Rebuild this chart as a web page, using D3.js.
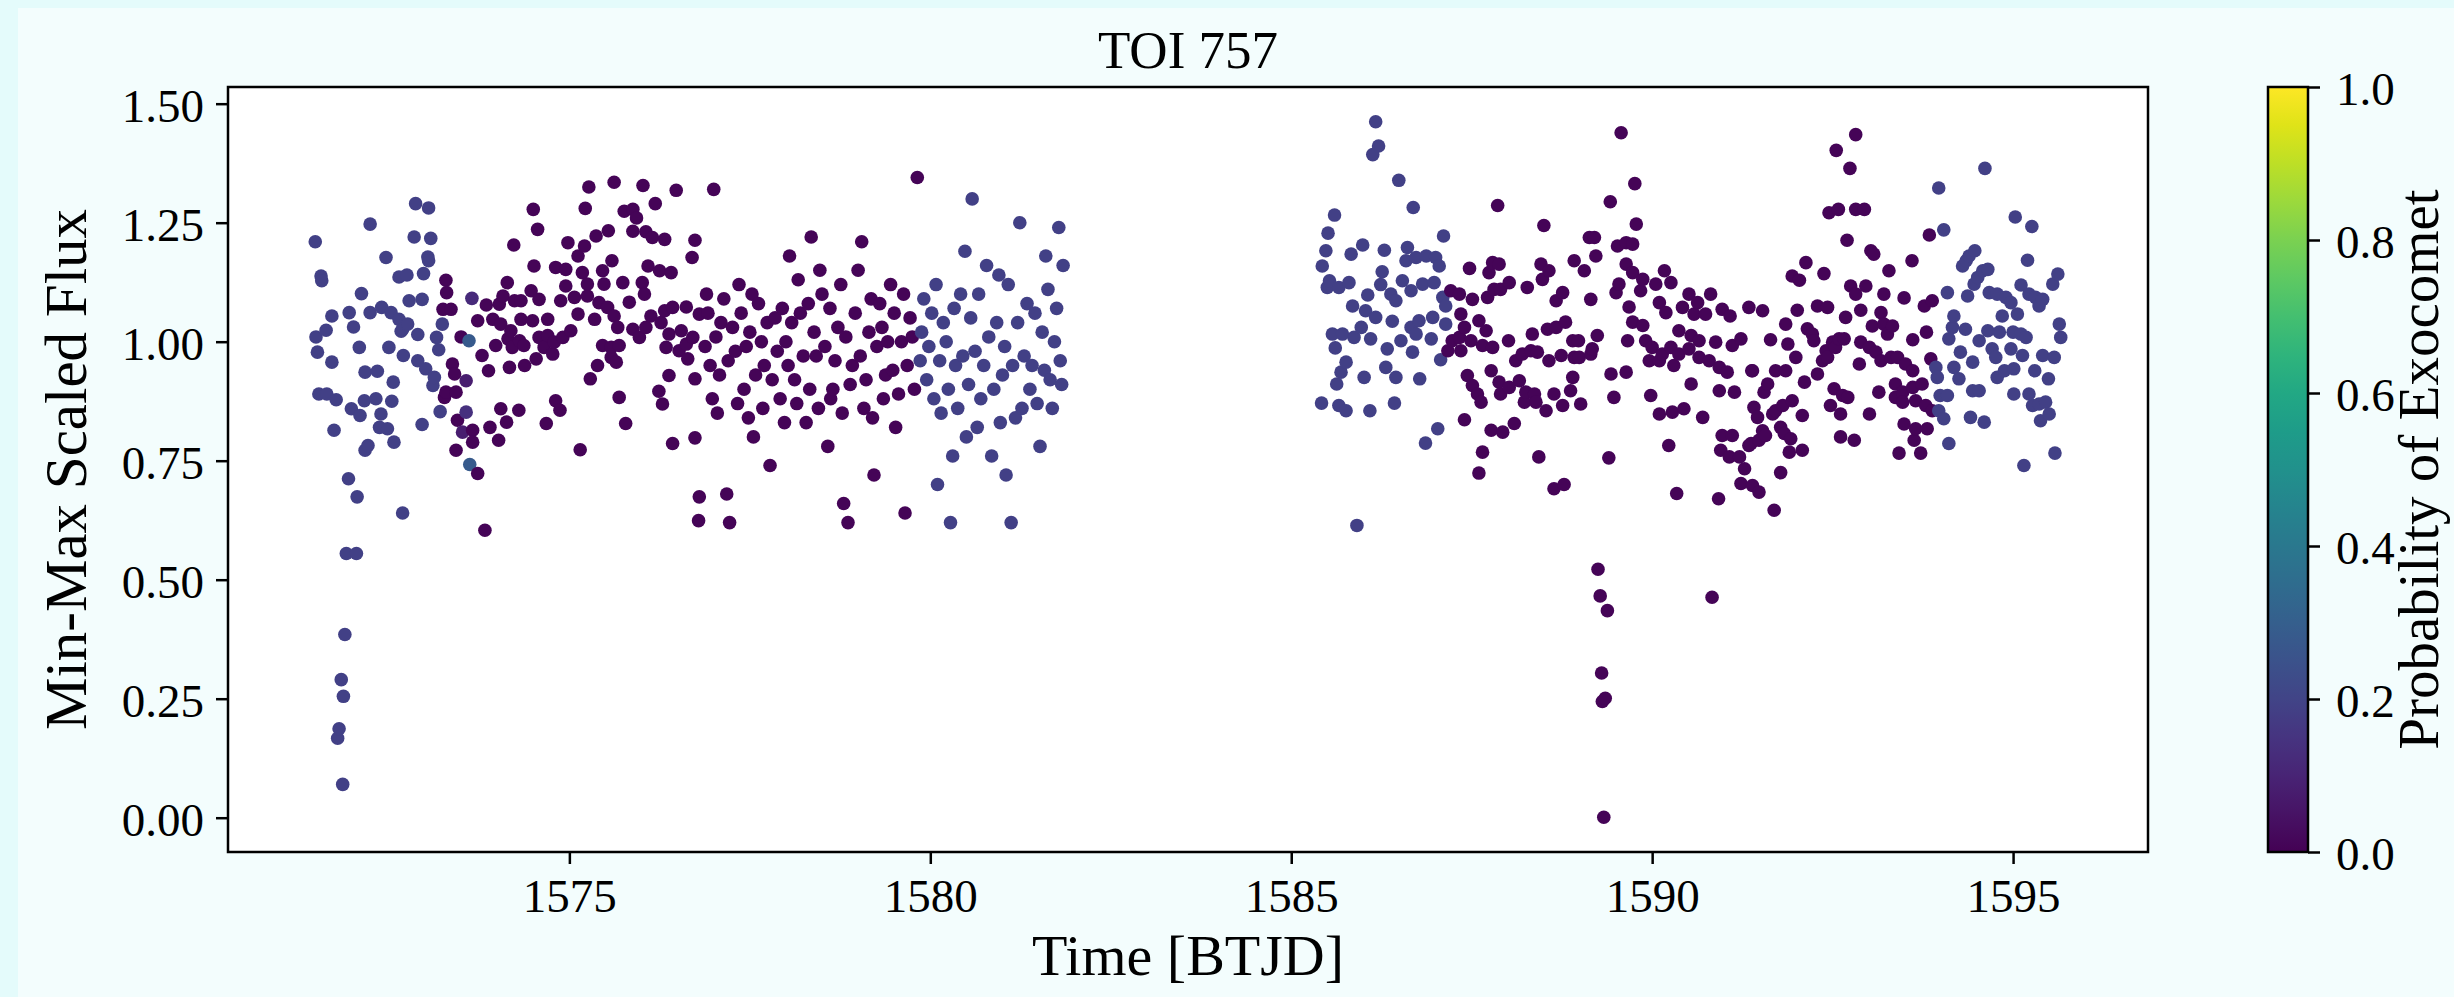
<!DOCTYPE html>
<html>
<head>
<meta charset="utf-8">
<script src="https://cdn.jsdelivr.net/npm/d3@7"></script>
<style>
  html, body { margin: 0; padding: 0; background: #e6fbfb; }
  svg { display: block; font-family: "Liberation Serif", "Times New Roman", serif; }
</style>
</head>
<body>
<svg id="chart" width="2454" height="997"></svg>
<script>
const title = "TOI 757";
const xLabel = "Time [BTJD]";
const yLabel = "Min-Max Scaled Flux";
const cbLabel = "Probability of Exocomet";
const xTicks = [1575, 1580, 1585, 1590, 1595];
const yTicks = [0, 0.25, 0.5, 0.75, 1.0, 1.25, 1.5];
const cbTicks = [0, 0.2, 0.4, 0.6, 0.8, 1.0];

// model probability per time window: [start, end, prob]
const probWindows = [
  [1571.0, 1573.245, 0.19],
  [1573.245, 1579.84, 0.01],
  [1579.84, 1582.0, 0.19],
  [1585.0, 1587.16, 0.19],
  [1587.16, 1593.9, 0.01],
  [1593.9, 1596.0, 0.19]
];

// [time, flux] or [time, flux, prob] where a point differs from its window
const seg1 = [
  [1571.48,1.210],[1571.56,1.138],[1571.57,1.128],[1571.49,1.010],[1571.63,1.024],[1571.71,1.054],
  [1571.51,0.978],[1571.71,0.957],[1571.53,0.890],[1571.64,0.890],[1571.77,0.878],[1571.74,0.814],
  [1571.95,1.061],[1572.01,1.031],[1572.12,1.101],[1572.24,1.247],[1572.09,0.988],[1572.17,0.936],
  [1572.34,0.938],[1571.98,0.859],[1572.10,0.845],[1572.16,0.876],[1572.32,0.880],[1572.39,0.848],
  [1572.37,0.820],[1572.48,0.817],[1572.17,0.772],[1572.21,0.782],[1571.94,0.712],[1572.57,0.789],
  [1572.24,1.061],[1572.40,1.072],[1572.53,1.061],[1572.64,1.047],[1572.76,1.037],[1572.69,1.026],
  [1572.46,1.177],[1572.64,1.136],[1572.75,1.140],[1572.87,1.290],[1573.05,1.281],[1572.85,1.220],
  [1573.08,1.217],[1573.04,1.178],[1573.05,1.170],[1572.98,1.143],[1572.78,1.086],[1572.96,1.089],
  [1572.67,1.022],[1572.90,1.015],[1572.50,0.988],[1572.70,0.971],[1572.90,0.960],[1573.01,0.943],
  [1573.13,0.925],[1573.11,0.908],[1572.56,0.915],[1572.54,0.875],[1572.96,0.826],[1573.21,0.853],
  [1573.19,0.983],[1573.16,1.009],[1573.24,1.037],
  [1572.06,0.674],[1572.69,0.640],[1571.91,0.555],[1572.05,0.555],[1571.89,0.385],[1571.84,0.290],
  [1571.87,0.255],[1571.81,0.187],[1571.79,0.167],[1571.86,0.070],
  [1573.29,1.129],[1573.30,1.103],[1573.25,1.068],[1573.36,1.068],[1573.50,1.010],[1573.38,0.953],
  [1573.41,0.932],[1573.29,0.894],[1573.27,0.883],[1573.43,0.894],[1573.45,0.835],[1573.66,0.814],
  [1573.66,0.789],[1573.43,0.772],[1573.73,0.723],[1573.73,1.044],[1573.85,1.077],[1573.79,0.971],
  [1573.88,0.939],[1573.98,0.992],[1573.90,0.820],[1574.02,0.793],[1574.05,0.859],[1574.13,0.831],
  [1574.30,0.856],[1574.68,0.828],[1574.81,0.876],[1574.87,0.856],[1575.15,0.773],[1575.69,0.883],
  [1575.78,0.828],[1575.29,0.922],[1575.39,0.950],[1576.24,0.896],[1576.29,0.869],[1576.43,0.786],
  [1576.38,0.929],[1576.74,0.798],[1576.74,0.922],
  [1573.65,1.091,0.12],[1573.61,1.002,0.28],[1573.57,0.918,0.08],[1573.57,0.852,0.14],
  [1573.62,0.742,0.28],[1573.52,0.810,0.08],
  [1575.27,1.325],[1575.62,1.335],[1576.02,1.328],[1576.48,1.318],[1574.50,1.278],[1574.56,1.236],
  [1575.22,1.280],[1576.19,1.290],[1575.76,1.274],[1575.88,1.278],[1575.93,1.260],[1575.88,1.232],
  [1576.06,1.231],[1576.15,1.219],[1576.32,1.215],[1575.37,1.222],[1575.54,1.233],[1574.23,1.203],
  [1574.98,1.208],[1575.21,1.201],[1575.12,1.180],[1574.51,1.159],[1575.59,1.170],[1574.81,1.156],
  [1574.95,1.152],[1575.18,1.145],[1575.46,1.149],[1576.09,1.159],[1576.25,1.149],[1576.41,1.145],
  [1576.70,1.177],[1576.74,1.213],[1574.14,1.124],[1574.95,1.117],[1575.25,1.121],[1575.48,1.121],
  [1575.74,1.124],[1576.01,1.124],[1576.04,1.100],[1575.83,1.083],[1574.08,1.096],[1574.24,1.086],
  [1574.47,1.107],[1574.58,1.089],[1574.88,1.086],[1575.07,1.093],[1575.25,1.096],[1575.41,1.082],
  [1575.53,1.072],[1574.03,1.079],[1574.33,1.086],[1576.32,1.065],[1576.43,1.072],[1576.62,1.073],
  [1576.80,1.058],[1573.94,1.047],[1574.05,1.037],[1574.19,1.023],[1574.33,1.047],[1574.49,1.044],
  [1574.70,1.047],[1575.12,1.058],[1575.35,1.047],[1575.62,1.054],[1575.67,1.030],[1575.88,1.026],
  [1576.06,1.030],[1576.13,1.054],[1576.27,1.040],[1576.38,1.016],[1576.55,1.023],[1576.71,1.009],
  [1574.15,1.006],[1574.31,1.002],[1574.58,1.009],[1574.70,1.013],[1574.79,0.999],[1574.91,1.009],
  [1575.02,1.023],[1574.21,0.988],[1574.37,0.992],[1574.65,0.988],[1575.97,1.009],[1575.46,0.992],
  [1575.58,0.988],[1575.69,0.992],[1576.34,0.988],[1576.52,0.981],[1576.62,0.995],[1574.77,0.974],
  [1574.54,0.964],[1574.17,0.946],[1574.38,0.950],[1575.58,0.967],[1575.65,0.957],[1576.64,0.964],
  [1573.83,0.604],[1576.80,0.674],[1576.79,0.624],
  [1576.90,1.10],[1576.95,0.95],[1577.00,1.32],[1577.05,0.85],[1577.10,1.04],[1577.18,0.68],
  [1577.22,0.62],[1577.30,0.98],[1577.35,1.12],[1577.42,0.90],[1577.50,1.02],[1577.55,0.80],
  [1577.62,1.08],[1577.70,0.95],[1577.78,0.74],[1577.85,1.05],[1577.92,0.88],[1578.00,1.00],
  [1578.05,1.18],[1578.12,0.92],[1578.20,1.06],[1578.28,0.83],[1578.35,1.22],[1578.42,0.97],
  [1578.50,1.10],[1578.58,0.78],[1578.65,0.90],[1578.72,1.03],[1578.80,0.66],[1578.86,0.62],
  [1578.92,0.95],[1579.00,1.15],[1579.08,0.86],[1579.15,1.02],[1579.22,0.72],[1579.30,1.08],
  [1579.38,0.93],[1579.45,1.12],[1579.52,0.82],[1579.60,1.00],[1579.65,0.64],[1579.72,1.05],
  [1579.78,0.90],[1579.82,1.345],
  [1576.88,0.99],[1576.92,1.06],[1576.98,0.88],[1577.03,1.01],[1577.08,0.93],[1577.14,1.09],
  [1577.20,0.96],[1577.26,1.03],[1577.33,0.87],[1577.38,1.06],[1577.45,0.99],[1577.48,0.84],
  [1577.53,1.10],[1577.58,0.93],[1577.66,1.00],[1577.68,0.86],[1577.74,1.04],[1577.81,0.92],
  [1577.88,0.98],[1577.95,1.07],[1577.98,0.83],[1578.03,0.95],[1578.08,1.04],[1578.15,0.87],
  [1578.17,1.13],[1578.24,0.97],[1578.31,1.08],[1578.33,0.90],[1578.39,1.02],[1578.45,0.86],
  [1578.47,1.15],[1578.54,0.99],[1578.61,1.07],[1578.62,0.88],[1578.68,0.96],[1578.76,1.12],
  [1578.78,0.85],[1578.83,1.01],[1578.89,0.91],[1578.96,1.06],[1579.03,0.97],[1579.05,1.21],
  [1579.11,0.92],[1579.18,1.09],[1579.20,0.84],[1579.26,0.99],[1579.33,1.03],[1579.35,0.88],
  [1579.41,1.00],[1579.48,0.94],[1579.50,1.06],[1579.56,0.89],[1579.63,1.10],[1579.68,0.95],
  [1579.75,1.01],
  [1579.88,1.02],[1579.95,0.92],[1580.02,1.06],[1580.10,0.70],[1580.15,0.85],[1580.22,1.00],
  [1580.28,0.62],[1580.35,0.95],[1580.42,1.10],[1580.50,0.80],[1580.58,1.30],[1580.62,0.98],
  [1580.70,0.88],[1580.78,1.16],[1580.85,0.76],[1580.92,1.04],[1581.00,0.93],[1581.08,1.12],
  [1581.12,0.62],[1581.18,0.84],[1581.24,1.25],[1581.30,0.97],[1581.38,0.90],[1581.45,1.06],
  [1581.52,0.78],[1581.60,1.18],[1581.66,0.92],[1581.72,1.00],[1581.78,1.24],[1581.82,0.91],
  [1579.86,0.96],[1579.91,1.09],[1579.98,0.99],[1580.05,0.88],[1580.08,1.12],[1580.13,0.96],
  [1580.18,1.04],[1580.25,0.90],[1580.31,0.76],[1580.33,1.07],[1580.38,0.86],[1580.45,0.97],
  [1580.48,1.19],[1580.53,0.91],[1580.56,1.05],[1580.65,0.82],[1580.67,1.10],[1580.74,0.95],
  [1580.81,1.01],[1580.88,0.90],[1580.95,1.14],[1580.97,0.83],[1581.03,0.99],[1581.05,0.72],
  [1581.14,0.95],[1581.21,1.04],[1581.27,0.86],[1581.34,1.08],[1581.41,0.95],[1581.48,0.87],
  [1581.55,1.02],[1581.58,0.94],[1581.63,1.11],[1581.69,0.86],[1581.75,1.07],[1581.80,0.96],
  [1581.84,1.16]
];

const seg2 = [
  [1586.17,1.462],[1586.21,1.411],[1586.13,1.393],[1586.49,1.339],[1586.69,1.282],[1585.60,1.266],
  [1585.51,1.228],[1585.48,1.191],[1585.43,1.159],[1585.83,1.184],[1585.99,1.203],[1586.29,1.192],
  [1586.61,1.198],[1586.59,1.170],[1586.73,1.177],[1586.87,1.180],[1587.00,1.177],[1587.05,1.159],
  [1587.11,1.222],[1586.26,1.147],[1585.53,1.128],[1585.66,1.114],[1585.80,1.124],[1585.50,1.114],
  [1586.06,1.098],[1586.24,1.120],[1586.38,1.100],[1586.45,1.086],[1586.54,1.128],[1586.66,1.107],
  [1586.82,1.121],[1586.98,1.124],[1587.10,1.093],[1587.14,1.075],[1585.85,1.075],[1586.03,1.065],
  [1586.17,1.051],[1585.57,1.016],[1585.71,1.016],[1585.87,1.009],[1585.97,1.030],[1586.10,1.006],
  [1586.40,1.043],[1586.66,1.030],[1586.77,1.044],[1586.96,1.051],[1587.14,1.037],[1586.52,1.002],
  [1586.73,1.016],[1586.94,1.006],[1585.61,0.987],[1586.33,0.985],[1586.68,0.978],[1587.07,0.962],
  [1585.76,0.957],[1585.69,0.936],[1586.31,0.946],[1586.45,0.925],[1585.63,0.911],[1586.01,0.925],
  [1586.78,0.922],[1585.42,0.871],[1585.66,0.866],[1585.76,0.855],[1586.09,0.855],[1586.43,0.871],
  [1587.03,0.817],[1586.86,0.787],[1585.91,0.614],
  [1589.57,1.439],[1589.76,1.332],[1589.42,1.294],[1589.78,1.247],[1587.86,1.286],[1588.50,1.244],
  [1589.13,1.219],[1589.20,1.219],[1589.22,1.180],[1589.52,1.201],[1589.64,1.208],[1589.73,1.205],
  [1588.92,1.170],[1589.06,1.149],[1587.47,1.154],[1587.79,1.166],[1587.88,1.163],[1587.74,1.145],
  [1588.46,1.163],[1588.57,1.149],[1588.48,1.131],[1588.02,1.124],[1587.90,1.110],[1587.81,1.110],
  [1588.27,1.114],[1589.64,1.163],[1589.73,1.145],[1589.87,1.131],[1590.05,1.121],[1590.17,1.149],
  [1590.26,1.124],[1589.54,1.121],[1589.50,1.103],[1587.21,1.107],[1587.33,1.100],[1587.51,1.089],
  [1587.72,1.093],[1588.76,1.103],[1588.67,1.086],[1589.15,1.089],[1589.84,1.107],[1590.10,1.082],
  [1590.19,1.061],[1590.51,1.100],[1590.63,1.082],[1590.81,1.100],[1590.42,1.072],[1590.58,1.058],
  [1590.74,1.058],[1590.97,1.068],[1591.08,1.054],[1591.34,1.072],[1591.53,1.065],[1589.68,1.073],
  [1587.35,1.058],[1587.40,1.030],[1587.33,1.009],[1587.60,1.044],[1587.70,1.023],[1587.23,1.002],
  [1587.17,0.981],[1587.35,0.981],[1587.49,1.002],[1587.65,0.992],[1587.79,0.988],[1588.01,1.002],
  [1588.34,1.016],[1588.55,1.026],[1588.67,1.030],[1588.80,1.041],[1588.90,1.002],[1588.98,1.002],
  [1589.24,1.013],[1589.66,1.002],[1589.73,1.041],[1589.87,1.034],[1589.91,1.002],[1590.00,0.988],
  [1590.14,0.974],[1590.26,0.988],[1590.37,0.974],[1590.51,0.985],[1590.37,1.023],[1590.54,1.013],
  [1590.65,1.002],[1590.88,0.999],[1591.11,0.992],[1591.23,1.006],[1591.64,1.004],[1588.11,0.960],
  [1588.20,0.974],[1588.32,0.981],[1588.41,0.978],[1588.57,0.960],[1588.74,0.971],[1588.92,0.967],
  [1588.99,0.967],[1589.15,0.974],[1589.17,0.985],[1589.96,0.960],[1590.10,0.960],[1590.30,0.950],
  [1590.65,0.967],[1590.79,0.960],[1590.93,0.946],[1591.04,0.936],[1590.93,0.897],[1591.14,0.894],
  [1591.39,0.939],[1591.71,0.939],[1591.60,0.911],[1591.55,0.894],[1587.44,0.929],[1587.51,0.908],
  [1587.58,0.890],[1587.63,0.873],[1587.77,0.939],[1587.88,0.915],[1587.90,0.890],[1588.02,0.904],
  [1588.16,0.918],[1588.25,0.894],[1588.37,0.890],[1588.23,0.873],[1588.39,0.873],[1588.53,0.855],
  [1588.64,0.890],[1588.76,0.866],[1588.87,0.897],[1588.90,0.925],[1589.01,0.869],[1589.43,0.932],
  [1589.64,0.936],[1589.47,0.883],[1589.98,0.887],[1590.10,0.848],[1590.28,0.852],[1590.44,0.859],
  [1590.70,0.841],[1590.54,0.911],[1591.41,0.862],[1591.46,0.841],[1591.67,0.848],[1591.53,0.813],
  [1591.34,0.782],[1591.48,0.793],[1590.97,0.803],[1591.11,0.803],[1590.95,0.772],[1591.07,0.758],
  [1591.21,0.758],[1591.28,0.733],[1591.23,0.702],[1591.39,0.698],[1591.48,0.684],[1591.69,0.646],
  [1590.23,0.782],[1590.34,0.681],[1590.92,0.670],[1587.40,0.836],[1587.77,0.814],[1587.93,0.810],
  [1588.09,0.828],[1587.65,0.768],[1587.60,0.724],[1588.43,0.758],[1588.64,0.691],[1588.78,0.700],
  [1589.40,0.756],[1591.78,0.725],
  [1589.25,0.522],[1589.28,0.466],[1589.38,0.435],[1589.30,0.304],[1589.35,0.251],[1589.31,0.244],
  [1589.33,0.001],[1590.83,0.463],
  [1592.82,1.435],[1592.55,1.402],[1592.74,1.364],[1592.45,1.271],[1592.58,1.278],[1592.82,1.278],
  [1592.94,1.278],[1592.70,1.213],[1593.84,1.224],[1593.03,1.191],[1593.07,1.184],[1593.60,1.170],
  [1593.28,1.149],[1592.13,1.166],[1591.94,1.138],[1592.04,1.129],[1592.38,1.143],[1592.75,1.117],
  [1592.82,1.100],[1592.96,1.117],[1593.21,1.100],[1593.49,1.092],[1593.77,1.075],[1593.88,1.086],
  [1592.01,1.066],[1592.29,1.075],[1592.43,1.072],[1592.89,1.066],[1593.17,1.061],[1591.85,1.037],
  [1592.15,1.027],[1592.22,1.016],[1592.24,1.002],[1592.68,1.051],[1593.05,1.033],[1593.21,1.037],
  [1593.33,1.033],[1593.26,1.016],[1593.80,1.020],[1593.61,1.004],[1591.88,0.995],[1592.50,0.999],
  [1592.59,1.006],[1592.66,1.006],[1592.41,0.981],[1592.54,0.988],[1592.89,0.999],[1593.01,0.988],
  [1593.10,0.978],[1591.99,0.967],[1592.36,0.960],[1592.43,0.967],[1592.87,0.953],[1593.17,0.960],
  [1593.31,0.967],[1593.40,0.967],[1593.51,0.953],[1593.61,0.939],[1593.86,0.964],[1591.38,0.939],
  [1591.85,0.939],[1592.29,0.932],[1592.11,0.915],[1592.52,0.901],[1593.37,0.911],[1593.47,0.894],
  [1593.61,0.904],[1593.74,0.911],[1593.14,0.894],[1592.71,0.883],[1592.64,0.887],[1593.37,0.883],
  [1593.47,0.873],[1593.65,0.876],[1593.79,0.866],[1593.88,0.855],[1591.71,0.855],[1591.81,0.866],
  [1591.94,0.876],[1592.08,0.845],[1592.47,0.866],[1592.61,0.848],[1593.01,0.848],[1593.49,0.827],
  [1593.65,0.817],[1593.81,0.817],[1593.63,0.793],[1593.42,0.766],[1593.72,0.766],[1592.61,0.800],
  [1592.80,0.793],[1591.78,0.820],[1591.83,0.807],[1591.92,0.796],[1592.08,0.772],[1591.90,0.768],
  [1591.37,0.786],[1591.57,0.803],
  [1594.61,1.364],[1593.97,1.323],[1595.03,1.262],[1595.26,1.242],[1594.04,1.235],[1594.47,1.191],
  [1594.39,1.180],[1594.30,1.159],[1594.35,1.170],[1595.20,1.171],[1594.58,1.149],[1594.65,1.152],
  [1594.51,1.135],[1594.46,1.121],[1595.62,1.142],[1595.55,1.121],[1595.11,1.119],[1595.22,1.100],
  [1595.31,1.093],[1595.41,1.089],[1595.36,1.075],[1594.09,1.103],[1594.37,1.096],[1594.67,1.103],
  [1594.78,1.100],[1594.90,1.093],[1594.97,1.082],[1594.85,1.054],[1595.06,1.058],[1594.18,1.054],
  [1594.16,1.030],[1594.34,1.026],[1594.11,1.006],[1594.53,1.002],[1594.65,1.023],[1594.81,1.020],
  [1595.00,1.020],[1595.11,1.016],[1595.18,1.009],[1595.64,1.037],[1595.66,1.009],[1594.27,0.978],
  [1594.44,0.957],[1594.71,0.985],[1594.76,0.967],[1594.97,0.985],[1595.13,0.971],[1595.41,0.971],
  [1595.57,0.967],[1593.93,0.946],[1593.95,0.925],[1594.18,0.946],[1594.25,0.922],[1594.44,0.897],
  [1594.53,0.897],[1594.78,0.925],[1594.88,0.939],[1595.01,0.943],[1595.30,0.939],[1595.49,0.922],
  [1593.99,0.887],[1594.09,0.887],[1595.01,0.890],[1595.22,0.890],[1595.27,0.866],[1595.36,0.869],
  [1595.45,0.873],[1595.50,0.848],[1595.38,0.834],[1593.97,0.855],[1594.04,0.838],[1594.41,0.841],
  [1594.60,0.831],[1594.11,0.786],[1595.58,0.766],[1595.15,0.740]
];

const W = 2454, H = 997;
const plot = { left: 228, right: 2148, top: 87, bottom: 852 };
const cb = { left: 2268, right: 2308 };

function windowProb(t) {
  const w = probWindows.find(w => t >= w[0] && t < w[1]);
  return w ? w[2] : 0;
}

const points = seg1.concat(seg2)
  .map(d => ({ t: d[0], f: d[1], p: d.length > 2 ? d[2] : windowProb(d[0]) }))
  .sort((a, b) => a.t - b.t);

// matplotlib-style 5% data margins
const tExt = d3.extent(points, d => d.t);
const fExt = d3.extent(points, d => d.f);
const tPad = (tExt[1] - tExt[0]) * 0.05;
const fPad = (fExt[1] - fExt[0]) * 0.05;

const x = d3.scaleLinear().domain([tExt[0] - tPad, tExt[1] + tPad]).range([plot.left, plot.right]);
const y = d3.scaleLinear().domain([fExt[0] - fPad, fExt[1] + fPad]).range([plot.bottom, plot.top]);
const c = d3.scaleSequential(d3.interpolateViridis).domain([0, 1]);
const cy = d3.scaleLinear().domain([0, 1]).range([plot.bottom, plot.top]);

const svg = d3.select("#chart");

// figure background
svg.append("rect").attr("width", W).attr("height", H).attr("fill", "#e4fbfb");
svg.append("rect").attr("x", 18).attr("y", 8).attr("width", W - 18).attr("height", H - 8).attr("fill", "#f3fdfd");

svg.append("rect")
  .attr("x", plot.left).attr("y", plot.top)
  .attr("width", plot.right - plot.left).attr("height", plot.bottom - plot.top)
  .attr("fill", "#fff");

svg.append("clipPath").attr("id", "clip")
  .append("rect")
  .attr("x", plot.left).attr("y", plot.top)
  .attr("width", plot.right - plot.left).attr("height", plot.bottom - plot.top);

svg.append("g")
  .attr("clip-path", "url(#clip)")
  .selectAll("circle")
  .data(points)
  .enter().append("circle")
  .attr("cx", d => x(d.t))
  .attr("cy", d => y(d.f))
  .attr("r", 6.8)
  .attr("fill", d => c(d.p));

const xAxis = svg.append("g")
  .attr("transform", `translate(0,${plot.bottom})`)
  .call(d3.axisBottom(x).tickValues(xTicks).tickFormat(d3.format("d")).tickSize(12).tickPadding(14));

const yAxis = svg.append("g")
  .attr("transform", `translate(${plot.left},0)`)
  .call(d3.axisLeft(y).tickValues(yTicks).tickFormat(d3.format(".2f")).tickSize(12).tickPadding(12));

[xAxis, yAxis].forEach(g => {
  g.select(".domain").remove();
  g.selectAll(".tick line").attr("stroke", "#000").attr("stroke-width", 2.5);
  g.selectAll(".tick text").attr("fill", "#000").style("font-size", "47px").style("font-family", "Liberation Serif");
});
xAxis.selectAll(".tick text").attr("dy", "0.72em");
yAxis.selectAll(".tick text").attr("dy", "0.38em");

svg.append("rect")
  .attr("x", plot.left).attr("y", plot.top)
  .attr("width", plot.right - plot.left).attr("height", plot.bottom - plot.top)
  .attr("fill", "none").attr("stroke", "#000").attr("stroke-width", 2.5);

svg.append("text")
  .attr("x", (plot.left + plot.right) / 2).attr("y", 68)
  .attr("text-anchor", "middle").style("font-size", "53px")
  .text(title);

svg.append("text")
  .attr("x", (plot.left + plot.right) / 2).attr("y", 975)
  .attr("text-anchor", "middle").style("font-size", "58px")
  .text(xLabel);

svg.append("text")
  .attr("transform", `translate(86,${(plot.top + plot.bottom) / 2}) rotate(-90)`)
  .attr("text-anchor", "middle").style("font-size", "59px")
  .text(yLabel);

// colorbar
const grad = svg.append("defs").append("linearGradient")
  .attr("id", "viridis").attr("x1", 0).attr("y1", 1).attr("x2", 0).attr("y2", 0);
grad.selectAll("stop")
  .data(d3.range(0, 1.0001, 0.05))
  .enter().append("stop")
  .attr("offset", d => d)
  .attr("stop-color", d => c(d));

svg.append("rect")
  .attr("x", cb.left).attr("y", plot.top)
  .attr("width", cb.right - cb.left).attr("height", plot.bottom - plot.top)
  .attr("fill", "url(#viridis)").attr("stroke", "#000").attr("stroke-width", 2.5);

const cAxis = svg.append("g")
  .attr("transform", `translate(${cb.right},0)`)
  .call(d3.axisRight(cy).tickValues(cbTicks).tickFormat(d3.format(".1f")).tickSize(12).tickPadding(16));
cAxis.select(".domain").remove();
cAxis.selectAll(".tick line").attr("stroke", "#000").attr("stroke-width", 2.5);
cAxis.selectAll(".tick text").attr("fill", "#000").attr("dy", "0.38em")
  .style("font-size", "47px").style("font-family", "Liberation Serif");

svg.append("text")
  .attr("transform", `translate(2438,${(plot.top + plot.bottom) / 2}) rotate(-90)`)
  .attr("text-anchor", "middle").style("font-size", "57px")
  .text(cbLabel);
</script>
</body>
</html>
